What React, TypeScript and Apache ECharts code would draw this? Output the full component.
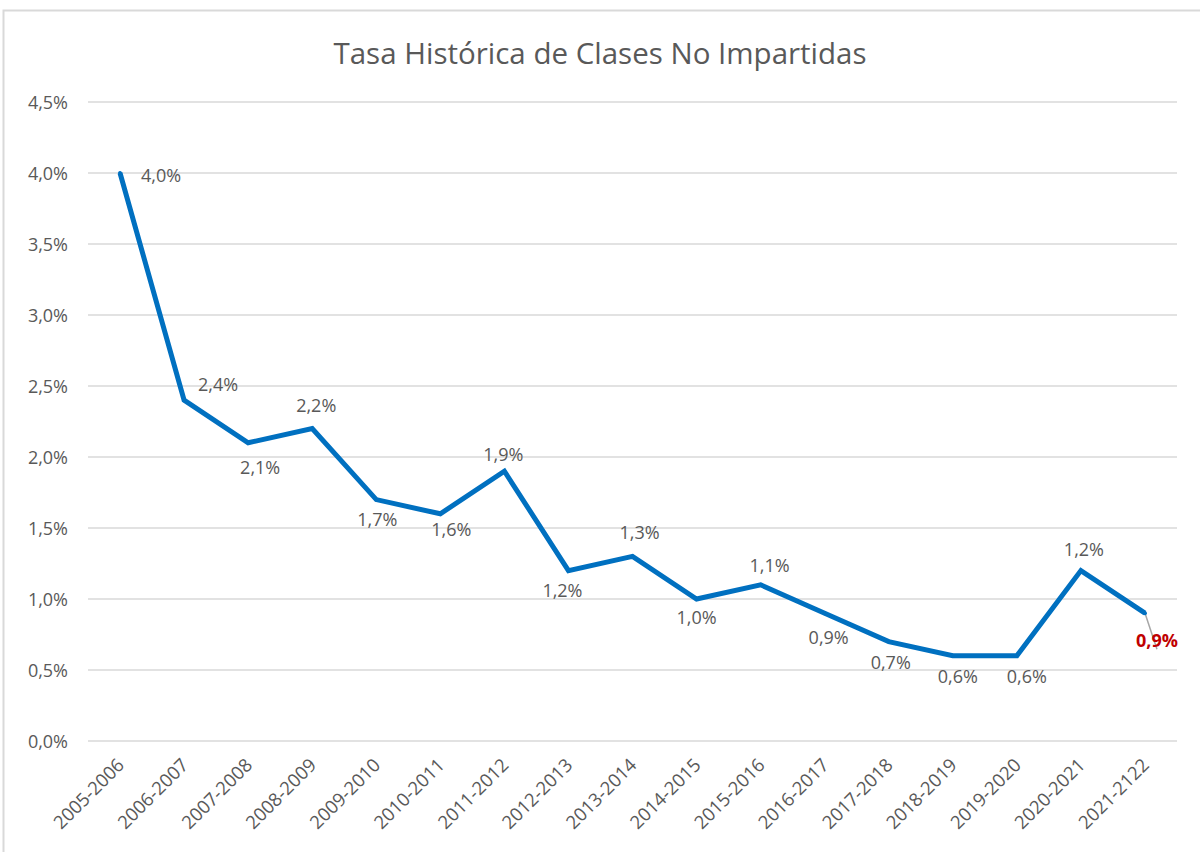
import React, { useEffect, useRef } from "react";
import * as echarts from "echarts";

const categories = [
  "2005-2006", "2006-2007", "2007-2008", "2008-2009", "2009-2010", "2010-2011",
  "2011-2012", "2012-2013", "2013-2014", "2014-2015", "2015-2016", "2016-2017",
  "2017-2018", "2018-2019", "2019-2020", "2020-2021", "2021-2122",
];
const values = [4.0, 2.4, 2.1, 2.2, 1.7, 1.6, 1.9, 1.2, 1.3, 1.0, 1.1, 0.9, 0.7, 0.6, 0.6, 1.2, 0.9];
const yTicks = [0, 0.5, 1, 1.5, 2, 2.5, 3, 3.5, 4, 4.5];
const title = "Tasa Histórica de Clases No Impartidas";

// label placement per point (style only)
const labelPlacement: Array<[number, number]> = [
  [41, 2], [34, -16], [12, 24], [4, -24], [1, 19], [11, 15], [-1, -17], [-6, 19],
  [7, -24], [0, 18], [9, -20], [4, 24], [2, 20], [5, 20], [10, 20], [3, -22], [12, 27],
];

const fmt = (v: number) => v.toFixed(1).replace(".", ",") + "%";

export default function App() {
  const ref = useRef<HTMLDivElement>(null);
  useEffect(() => {
    if (!ref.current) return;
    const chart = echarts.init(ref.current, null, { renderer: "svg" });
    const font = "'Open Sans', 'Noto Sans', sans-serif";
    const last = values.length - 1;
    chart.setOption({
      animation: false,
      backgroundColor: "#ffffff",
      textStyle: { fontFamily: font },
      title: {
        text: title,
        left: "center",
        top: 32,
        textStyle: { fontSize: 29.5, fontWeight: "normal", color: "#595959", fontFamily: font },
      },
      graphic: [
        {
          type: "rect",
          shape: { x: 3.5, y: 10.5, width: 1300, height: 1000 },
          style: { fill: "none", stroke: "#d9d9d9", lineWidth: 2 },
          silent: true,
        },
      ],
      grid: { left: 88, right: 23, top: 102, bottom: 111, containLabel: false },
      xAxis: {
        type: "category",
        data: categories,
        boundaryGap: true,
        axisLine: { show: false },
        axisTick: { show: false },
        axisLabel: { rotate: 45, color: "#595959", fontSize: 18.5, margin: 20, fontFamily: font, interval: 0 },
      },
      yAxis: {
        type: "value",
        min: 0,
        max: 4.5,
        interval: 0.5,
        axisLine: { show: false },
        axisTick: { show: false },
        splitLine: { lineStyle: { color: "#d9d9d9", width: 1.5 } },
        axisLabel: {
          color: "#595959",
          fontSize: 18,
          margin: 20,
          fontFamily: font,
          formatter: (v: number) => (yTicks.includes(v) ? fmt(v) : ""),
        },
      },
      series: [
        {
          type: "line",
          data: values.map((v, i) => ({
            value: v,
            label: {
              show: true,
              position: "inside",
              offset: labelPlacement[i],
              formatter: fmt(v),
              color: i === last ? "#C00000" : "#595959",
              fontWeight: i === last ? "bold" : "normal",
              fontSize: 18,
              fontFamily: font,
            },
            labelLine: i === last ? { show: true, lineStyle: { color: "#a6a6a6", width: 1.5 } } : { show: false },
          })),
          symbol: "circle",
          symbolSize: 4,
          itemStyle: { color: "#0070C0" },
          lineStyle: { color: "#0070C0", width: 5, join: "miter" },
        },
      ],
    });
    return () => chart.dispose();
  }, []);
  return (
    <div
      ref={ref}
      style={{ position: "fixed", left: 0, top: 0, width: 1200, height: 852, background: "#fff" }}
    />
  );
}
